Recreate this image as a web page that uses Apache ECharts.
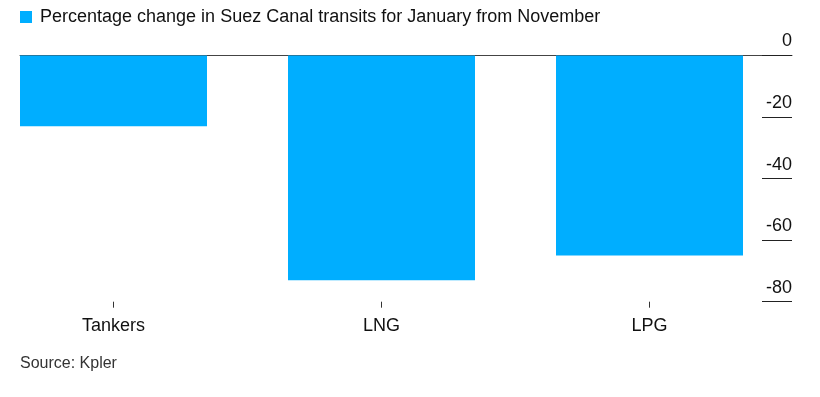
<!DOCTYPE html>
<html>
<head>
<meta charset="utf-8">
<script src="https://cdn.jsdelivr.net/npm/echarts@6/dist/echarts.min.js"></script>
<style>
html,body{margin:0;padding:0;background:#fff;}
#chart{width:820px;height:397px;}
</style>
</head>
<body>
<div id="chart"></div>
<script>
const categories = ['Tankers', 'LNG', 'LPG'];
const values = [-23, -73, -65];
const seriesName = 'Percentage change in Suez Canal transits for January from November';
const sourceText = 'Source: Kpler';
const yMin = -80, yMax = 0, yStep = 20;

const FONT = '"Liberation Sans", Arial, sans-serif';
const chart = echarts.init(document.getElementById('chart'), null, {renderer: 'canvas'});
chart.setOption({
  animation: false,
  backgroundColor: '#fff',
  textStyle: {fontFamily: FONT},
  title: {
    text: sourceText,
    left: 20, top: 356, padding: 0,
    textStyle: {fontSize: 16, fontWeight: 'normal', color: '#333', fontFamily: FONT}
  },
  legend: {
    left: 20, top: 8, padding: 0,
    icon: 'rect', itemWidth: 12, itemHeight: 12, itemGap: 8,
    selectedMode: false,
    textStyle: {fontSize: 18, color: '#111', fontFamily: FONT, padding: [0,0,0,3]},
    data: [seriesName]
  },
  grid: [
    {left: 113.5, right: 170.5, top: 55.5, bottom: 95.3, containLabel: false},
    {left: 20, right: 28, top: 55.5, bottom: 95.3, containLabel: false}
  ],
  xAxis: [
    {
      type: 'category', gridIndex: 0, data: categories, position: 'bottom', boundaryGap: false,
      axisLine: {show: false, onZero: false},
      axisTick: {show: true, length: 6, lineStyle: {color: '#333'}},
      axisLabel: {fontSize: 18, color: '#111', margin: 15, fontFamily: FONT},
      splitLine: {show: false}
    },
    {
      type: 'value', gridIndex: 1, min: 0, max: 1, position: 'top',
      axisLine: {show: true, onZero: false, lineStyle: {color: '#444', width: 1}},
      axisTick: {show: false}, axisLabel: {show: false}, splitLine: {show: false}
    }
  ],
  yAxis: [
    {
      type: 'value', gridIndex: 0, min: yMin, max: yMax, interval: yStep, show: false
    },
    {
      type: 'value', gridIndex: 1, min: yMin, max: yMax, interval: yStep, position: 'right',
      axisLine: {show: false, onZero: false},
      axisTick: {show: true, inside: true, length: 30, lineStyle: {color: '#222', width: 1}},
      axisLabel: {inside: true, margin: 0, align: 'right', verticalAlign: 'bottom',
                  padding: [0, 0, 5, 0], fontSize: 18, color: '#111', fontFamily: FONT},
      splitLine: {show: false}
    }
  ],
  series: [
    {
      name: seriesName, type: 'bar', xAxisIndex: 0, yAxisIndex: 0,
      data: values, barWidth: 187, z: 5, clip: false,
      itemStyle: {color: '#00aeff'}
    }
  ]
});
</script>
</body>
</html>
